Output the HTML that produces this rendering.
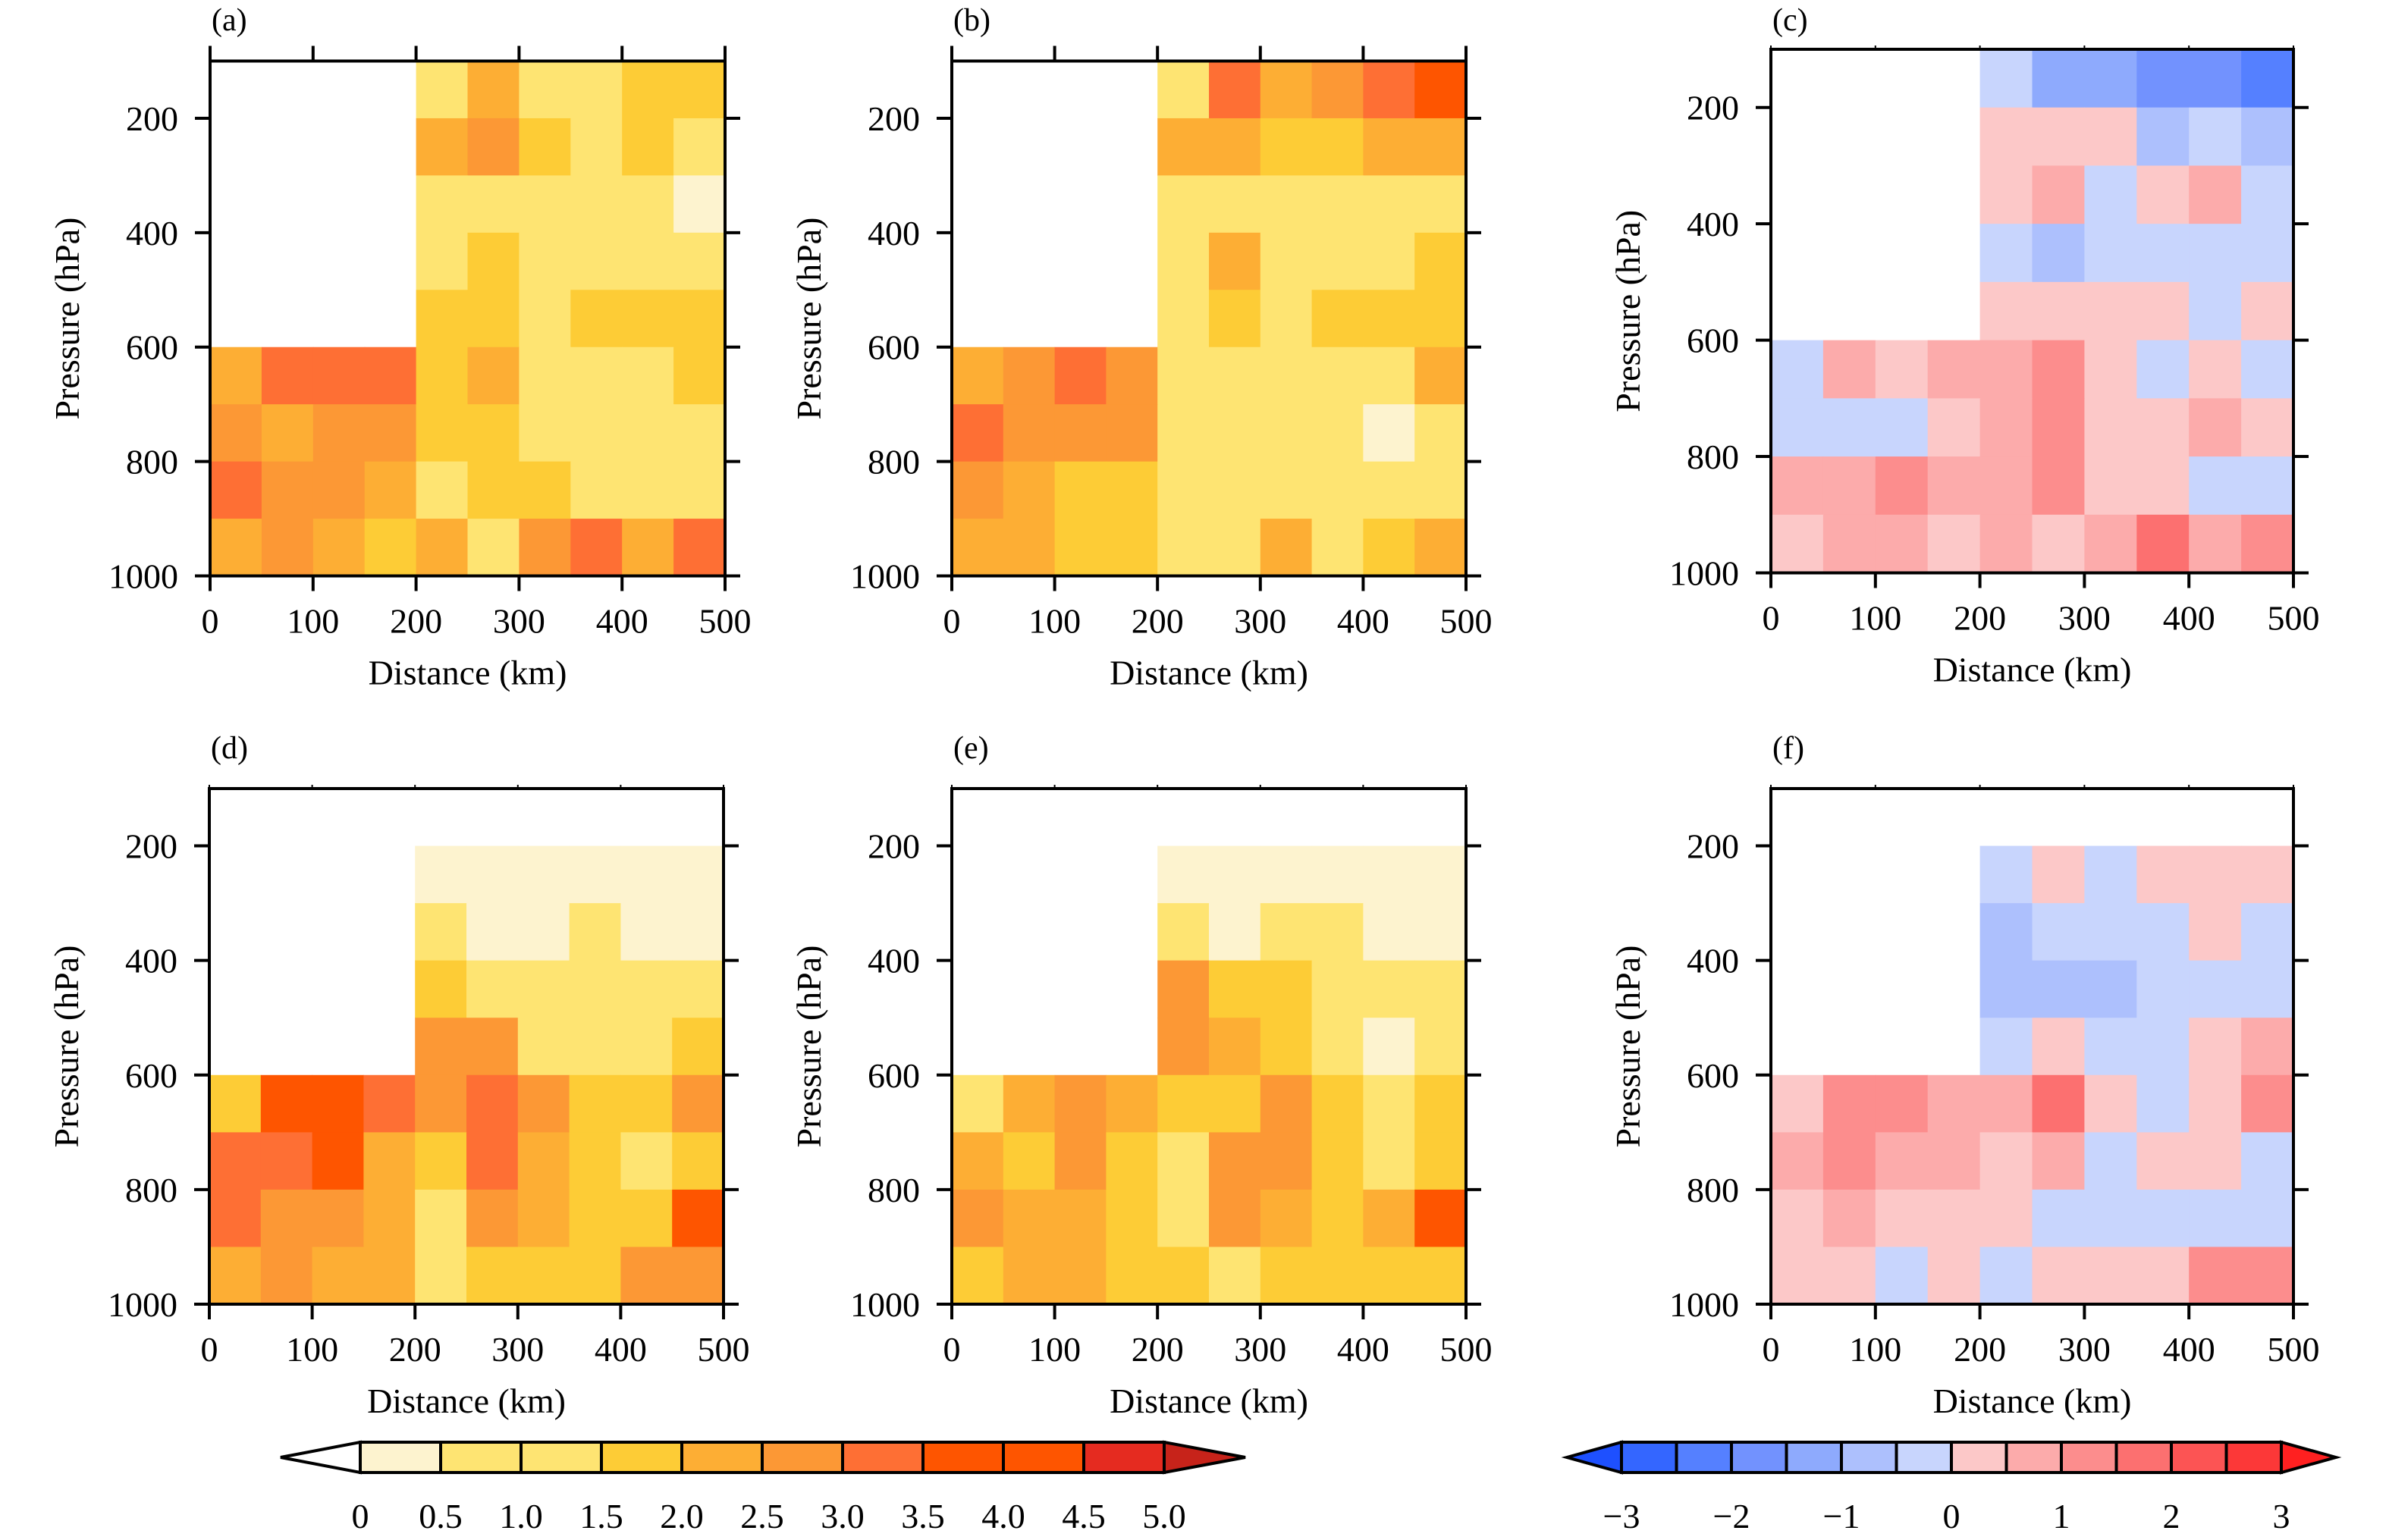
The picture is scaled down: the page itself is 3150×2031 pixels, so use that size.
<!DOCTYPE html>
<html><head><meta charset="utf-8">
<style>
html,body{margin:0;padding:0;background:#fff;}
svg{display:block;}
text{font-family:"Liberation Serif",serif;fill:#000;}
</style></head>
<body>
<svg id="fig" width="3150" height="2031" viewBox="0 0 3150 2031" xmlns="http://www.w3.org/2000/svg" font-family="Liberation Serif, serif"></svg>
<script>
// ---- data (rows: 100-200 hPa ... 900-1000 hPa; cols: 0-50 ... 450-500 km) ----
const distanceBins = [0,50,100,150,200,250,300,350,400,450,500];
const pressureBins = [100,200,300,400,500,600,700,800,900,1000];
const pressureTicks = [200,400,600,800,1000];
const distanceTicks = [0,100,200,300,400,500];
const absLevels = [0,0.5,1.0,1.5,2.0,2.5,3.0,3.5,4.0,4.5,5.0];
const absLevelLabels = ["0","0.5","1.0","1.5","2.0","2.5","3.0","3.5","4.0","4.5","5.0"];
const diffLevels = [-3,-2.5,-2,-1.5,-1,-0.5,0,0.5,1,1.5,2,2.5,3];
const diffLabelValues = [-3,-2,-1,0,1,2,3];
const diffLabels = ["\u22123","\u22122","\u22121","0","1","2","3"];
const N = null;
const panelA = [
 [N,N,N,N,0.8,2.3,0.8,0.8,1.8,1.8],
 [N,N,N,N,2.3,2.8,1.8,0.8,1.8,0.8],
 [N,N,N,N,0.8,0.8,0.8,0.8,0.8,0.3],
 [N,N,N,N,0.8,1.8,0.8,0.8,0.8,0.8],
 [N,N,N,N,1.8,1.8,0.8,1.8,1.8,1.8],
 [2.3,3.3,3.3,3.3,1.8,2.3,0.8,0.8,0.8,1.8],
 [2.8,2.3,2.8,2.8,1.8,1.8,0.8,0.8,0.8,0.8],
 [3.3,2.8,2.8,2.3,0.8,1.8,1.8,0.8,0.8,0.8],
 [2.3,2.8,2.3,1.8,2.3,0.8,2.8,3.3,2.3,3.3]];
const panelB = [
 [N,N,N,N,0.8,3.3,2.3,2.8,3.3,3.8],
 [N,N,N,N,2.3,2.3,1.8,1.8,2.3,2.3],
 [N,N,N,N,0.8,0.8,0.8,0.8,0.8,0.8],
 [N,N,N,N,0.8,2.3,0.8,0.8,0.8,1.8],
 [N,N,N,N,0.8,1.8,0.8,1.8,1.8,1.8],
 [2.3,2.8,3.3,2.8,0.8,0.8,0.8,0.8,0.8,2.3],
 [3.3,2.8,2.8,2.8,0.8,0.8,0.8,0.8,0.3,0.8],
 [2.8,2.3,1.8,1.8,0.8,0.8,0.8,0.8,0.8,0.8],
 [2.3,2.3,1.8,1.8,0.8,0.8,2.3,0.8,1.8,2.3]];
const panelC = [
 [N,N,N,N,-0.3,-1.3,-1.3,-1.8,-1.8,-2.3],
 [N,N,N,N,0.3,0.3,0.3,-0.8,-0.3,-0.8],
 [N,N,N,N,0.3,0.8,-0.3,0.3,0.8,-0.3],
 [N,N,N,N,-0.3,-0.8,-0.3,-0.3,-0.3,-0.3],
 [N,N,N,N,0.3,0.3,0.3,0.3,-0.3,0.3],
 [-0.3,0.8,0.3,0.8,0.8,1.3,0.3,-0.3,0.3,-0.3],
 [-0.3,-0.3,-0.3,0.3,0.8,1.3,0.3,0.3,0.8,0.3],
 [0.8,0.8,1.3,0.8,0.8,1.3,0.3,0.3,-0.3,-0.3],
 [0.3,0.8,0.8,0.3,0.8,0.3,0.8,1.8,0.8,1.3]];
const panelD = [
 [N,N,N,N,N,N,N,N,N,N],
 [N,N,N,N,0.3,0.3,0.3,0.3,0.3,0.3],
 [N,N,N,N,0.8,0.3,0.3,0.8,0.3,0.3],
 [N,N,N,N,1.8,0.8,0.8,0.8,0.8,0.8],
 [N,N,N,N,2.8,2.8,0.8,0.8,0.8,1.8],
 [1.8,3.8,3.8,3.3,2.8,3.3,2.8,1.8,1.8,2.8],
 [3.3,3.3,3.8,2.3,1.8,3.3,2.3,1.8,0.8,1.8],
 [3.3,2.8,2.8,2.3,0.8,2.8,2.3,1.8,1.8,3.8],
 [2.3,2.8,2.3,2.3,0.8,1.8,1.8,1.8,2.8,2.8]];
const panelE = [
 [N,N,N,N,N,N,N,N,N,N],
 [N,N,N,N,0.3,0.3,0.3,0.3,0.3,0.3],
 [N,N,N,N,0.8,0.3,0.8,0.8,0.3,0.3],
 [N,N,N,N,2.8,1.8,1.8,0.8,0.8,0.8],
 [N,N,N,N,2.8,2.3,1.8,0.8,0.3,0.8],
 [0.8,2.3,2.8,2.3,1.8,1.8,2.8,1.8,0.8,1.8],
 [2.3,1.8,2.8,1.8,0.8,2.8,2.8,1.8,0.8,1.8],
 [2.8,2.3,2.3,1.8,0.8,2.8,2.3,1.8,2.3,3.8],
 [1.8,2.3,2.3,1.8,1.8,0.8,1.8,1.8,1.8,1.8]];
const panelF = [
 [N,N,N,N,N,N,N,N,N,N],
 [N,N,N,N,-0.3,0.3,-0.3,0.3,0.3,0.3],
 [N,N,N,N,-0.8,-0.3,-0.3,-0.3,0.3,-0.3],
 [N,N,N,N,-0.8,-0.8,-0.8,-0.3,-0.3,-0.3],
 [N,N,N,N,-0.3,0.3,-0.3,-0.3,0.3,0.8],
 [0.3,1.3,1.3,0.8,0.8,1.8,0.3,-0.3,0.3,1.3],
 [0.8,1.3,0.8,0.8,0.3,0.8,-0.3,0.3,0.3,-0.3],
 [0.3,0.8,0.3,0.3,0.3,-0.3,-0.3,-0.3,-0.3,-0.3],
 [0.3,0.3,-0.3,0.3,-0.3,0.3,0.3,0.3,1.3,1.3]];

const absColors = ["#fdf3cf","#fee472","#fee472","#fdcc36","#fdae34","#fc9835","#fe6f34","#fe5500","#fe5500","#e52b20"];
const absUnder = "#ffffff", absOver = "#c7231a";
const diffColors = ["#3466ff","#5580ff","#7292fe","#8eaafd","#adc0fd","#c8d5fd","#fcc8c8","#fcabab","#fc8d8d","#fc7070","#fc5454","#fc3838"];
const diffUnder = "#1e50ff", diffOver = "#ff2020";

const NS = "http://www.w3.org/2000/svg";
const svg = document.getElementById('fig');
function mk(tag, attrs, parent){
  const e = document.createElementNS(NS, tag);
  for (const k in attrs) e.setAttribute(k, attrs[k]);
  if (tag === 'text') e.setAttribute('font-family', 'Liberation Serif, serif');
  (parent||svg).appendChild(e);
  return e;
}
function colorFor(v, levels, colors, under, over){
  if (v < levels[0]) return under;
  if (v >= levels[levels.length-1]) return over;
  for (let i=0;i<colors.length;i++){ if (v < levels[i+1]) return colors[i]; }
  return over;
}

const panels = [
 {id:'a', data:panelA, diff:false, x0:277, x1:956, y0:80.5, y1:759.5, lab:40, bigTop:true},
 {id:'b', data:panelB, diff:false, x0:1255, x1:1933, y0:80.5, y1:759.5, lab:40, bigTop:true},
 {id:'c', data:panelC, diff:true,  x0:2335, x1:3024, y0:65, y1:755.5, lab:40, bigTop:false},
 {id:'d', data:panelD, diff:false, x0:276, x1:954, y0:1040, y1:1720, lab:1000, bigTop:false},
 {id:'e', data:panelE, diff:false, x0:1255, x1:1933, y0:1040, y1:1720, lab:1000, bigTop:false},
 {id:'f', data:panelF, diff:true,  x0:2335, x1:3024, y0:1040, y1:1720, lab:1000, bigTop:false}
];

panels.forEach(p => {
  const g = mk('g', {});
  
  
  const xs = d => p.x0 + (d - 0) / 500 * (p.x1 - p.x0);
  const ys = v => p.y0 + (v - 100) / 900 * (p.y1 - p.y0);
  p.data.forEach((row, r) => {
    row.forEach((v, c) => {
      if (v === null) return;
      const xa = xs(distanceBins[c]), xb = xs(distanceBins[c+1]);
      const ya = ys(pressureBins[r]), yb = ys(pressureBins[r+1]);
      const col = p.diff ? colorFor(v, diffLevels, diffColors, diffUnder, diffOver)
                         : colorFor(v, absLevels, absColors, absUnder, absOver);
      const rect = mk('rect', {x:xa, y:ya, width:xb-xa+0.6, height:yb-ya+0.6, fill:col}, g);
      
      
    });
  });
  const fr = mk('rect', {x:p.x0, y:p.y0, width:p.x1-p.x0, height:p.y1-p.y0, fill:'none', stroke:'#000', 'stroke-width':4}, g);
  
  
  pressureTicks.forEach(t => {
    const y = ys(t);
    mk('line', {x1:p.x0-20, x2:p.x0, y1:y, y2:y, stroke:'#000', 'stroke-width':4}, g);
    mk('line', {x1:p.x1, x2:p.x1+20, y1:y, y2:y, stroke:'#000', 'stroke-width':4}, g);
    const tx = mk('text', {x:p.x0-42, y:y+16, 'font-size':46, 'text-anchor':'end'}, g);
    tx.textContent = t;
    
    
  });
  distanceTicks.forEach(t => {
    const x = xs(t);
    mk('line', {x1:x, x2:x, y1:p.y1, y2:p.y1+20, stroke:'#000', 'stroke-width':4}, g);
    mk('line', {x1:x, x2:x, y1:p.y0-(p.bigTop?20:5), y2:p.y0, stroke:'#000', 'stroke-width':p.bigTop?4:2}, g);
    const tx = mk('text', {x:x, y:p.y1+75, 'font-size':46, 'text-anchor':'middle'}, g);
    tx.textContent = t;
    
    
  });
  const xt = mk('text', {x:(p.x0+p.x1)/2, y:p.y1+143, 'font-size':46, 'text-anchor':'middle'}, g);
  xt.textContent = 'Distance (km)';
  
  
  const yc = (p.y0+p.y1)/2, yx = p.x0-173;
  const yt = mk('text', {x:yx, y:yc, 'font-size':46, 'text-anchor':'middle', transform:'rotate(-90 '+yx+' '+yc+')'}, g);
  yt.textContent = 'Pressure (hPa)';
  
  
  const pl = mk('text', {x:p.x0+2, y:p.lab, 'font-size':42}, g);
  pl.textContent = '(' + p.id + ')';
  
  
});

function colorbar(name, x0, boxW, colors, under, over, tipL, tipR, labelVals, labelTexts, levelStart, levelStep){
  const g = mk('g', {});
  
  
  const y0 = 1902, y1 = 1942, ym = 1922;
  const x1 = x0 + boxW * colors.length;
  const la = mk('polygon', {points: tipL+','+ym+' '+x0+','+y0+' '+x0+','+y1, fill:under, stroke:'#000', 'stroke-width':4}, g);
  
  
  const ra = mk('polygon', {points: tipR+','+ym+' '+x1+','+y0+' '+x1+','+y1, fill:over, stroke:'#000', 'stroke-width':4}, g);
  
  
  colors.forEach((c,i) => {
    const r = mk('rect', {x:x0+i*boxW, y:y0, width:boxW, height:y1-y0, fill:c, stroke:'#000', 'stroke-width':4}, g);
    
    
  });
  labelVals.forEach((v,i) => {
    const x = x0 + (v - levelStart) / levelStep * boxW;
    const t = mk('text', {x:x, y:2015, 'font-size':46, 'text-anchor':'middle'}, g);
    t.textContent = labelTexts[i];
    
    
  });
}
colorbar('colorbar-absolute', 475, 106, absColors, absUnder, absOver, 370, 1642, absLevels, absLevelLabels, 0, 0.5);
colorbar('colorbar-difference', 2138, 72.5, diffColors, diffUnder, diffOver, 2066, 3080, diffLabelValues, diffLabels, -3, 0.5);
</script>
</body></html>
